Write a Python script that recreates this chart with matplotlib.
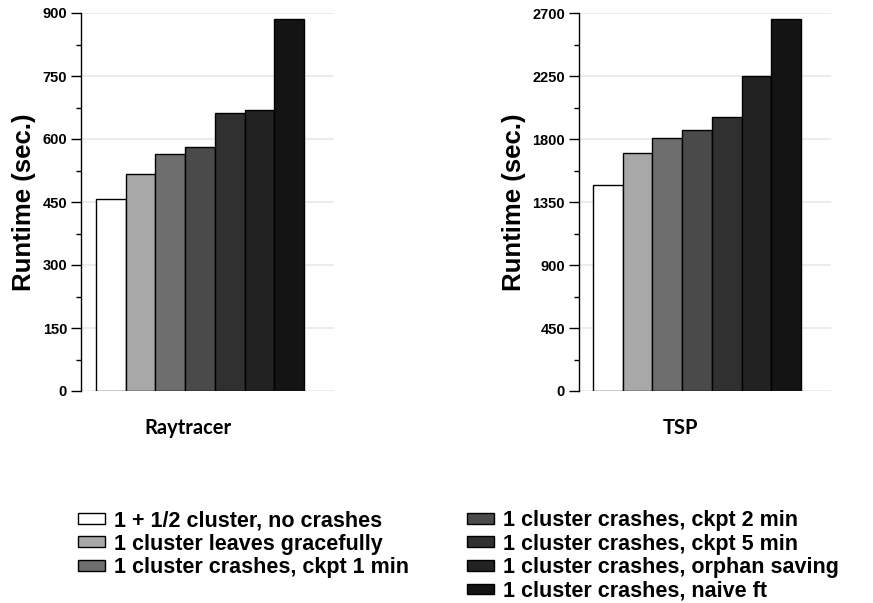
import matplotlib
matplotlib.use("Agg")
import matplotlib.pyplot as plt
from matplotlib.patches import Patch
from matplotlib.ticker import MultipleLocator

# data
series = [
    "1 + 1/2 cluster, no crashes",
    "1 cluster leaves gracefully",
    "1 cluster crashes, ckpt 1 min",
    "1 cluster crashes, ckpt 2 min",
    "1 cluster crashes, ckpt 5 min",
    "1 cluster crashes, orphan saving",
    "1 cluster crashes, naive ft",
]
colors = ["#ffffff", "#a8a8a8", "#6e6e6e", "#4a4a4a", "#303030", "#222222", "#141414"]

raytracer = [457, 516, 565, 582, 661, 669, 886]
tsp = [1469, 1698, 1810, 1864, 1955, 2250, 2657]

panels = [
    ("Raytracer", raytracer, 900, 150),
    ("TSP", tsp, 2700, 450),
]

W, H = 873, 603
FONT = "Liberation Sans"

plt.rcParams["font.family"] = FONT
plt.rcParams["font.weight"] = "bold"

fig = plt.figure(figsize=(W / 100, H / 100), dpi=100)

# axes boxes in pixels: left, top, right, bottom
boxes = [(81, 13, 334, 391), (579, 13, 831, 391)]
xlims = [(-1.005, 7.51), (-0.971, 7.51)]
label_x = [2.6, 2.43]
ylabel_x = [24.5, 514.5]

for (name, values, ymax, step), box, xl, lx, ylx in zip(panels, boxes, xlims, label_x, ylabel_x):
    l, t, r, b = box
    ax = fig.add_axes([l / W, 1 - b / H, (r - l) / W, (b - t) / H])
    ax.bar(range(len(values)), values, width=1.0, color=colors,
           edgecolor="black", linewidth=1.0, zorder=3)
    ax.set_xlim(*xl)
    ax.set_ylim(0, ymax)
    ax.yaxis.set_major_locator(MultipleLocator(step))
    ax.yaxis.set_minor_locator(MultipleLocator(step / 2))
    ax.grid(axis="y", which="major", color="#e9e9e9", linewidth=1.2, zorder=0)
    for side in ["top", "right", "bottom"]:
        ax.spines[side].set_visible(False)
    ax.spines["left"].set_linewidth(1.0)
    ax.set_xticks([])
    ax.tick_params(axis="y", which="major", length=7, width=1.0, pad=3,
                   labelsize=10.5)
    ax.tick_params(axis="y", which="minor", length=3.5, width=1.0)
    ax.text(lx, -0.098, name, transform=ax.get_xaxis_transform(),
            ha="center", va="center", fontsize=14.5, fontweight="bold",
            family="Lato")
    fig.text(ylx / W, 1 - 202 / H, "Runtime (sec.)", rotation=90,
             ha="center", va="center", fontsize=18.5, fontweight="bold")

handles = [Patch(facecolor=c, edgecolor="black", linewidth=1.0) for c in colors]
legend_opts = dict(
    loc="upper left", frameon=False, borderpad=0, borderaxespad=0,
    handlelength=1.25, handleheight=0.4, handletextpad=0.4,
    labelspacing=0.12,
    prop={"family": FONT, "weight": "bold", "size": 15.5},
)
fig.legend(handles[:3], series[:3], bbox_to_anchor=(78 / W, 1 - 510 / H), **legend_opts)
fig.legend(handles[3:], series[3:], bbox_to_anchor=(467 / W, 1 - 510 / H), **legend_opts)

fig.savefig("out.png", dpi=100)
